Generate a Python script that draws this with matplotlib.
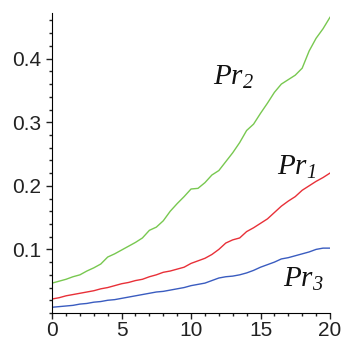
import numpy as np
import matplotlib
matplotlib.use('Agg')
import matplotlib.pyplot as plt
from matplotlib.ticker import MultipleLocator

plt.rcParams['mathtext.fontset'] = 'custom'
plt.rcParams['mathtext.it'] = 'Liberation Serif:italic'
plt.rcParams['mathtext.rm'] = 'Liberation Serif:italic'
plt.rcParams['font.family'] = 'Liberation Sans'

x = np.arange(0, 20.5, 0.5)

pr2 = [0.047, 0.050, 0.053, 0.057, 0.060, 0.066, 0.071, 0.077, 0.088, 0.093,
       0.099, 0.105, 0.111, 0.118, 0.130, 0.135, 0.145, 0.160, 0.172, 0.183,
       0.195, 0.196, 0.205, 0.217, 0.224, 0.238, 0.252, 0.268, 0.287, 0.297,
       0.314, 0.330, 0.347, 0.360, 0.367, 0.374, 0.385, 0.412, 0.432, 0.447,
       0.465]
pr1 = [0.022, 0.024, 0.027, 0.029, 0.031, 0.033, 0.035, 0.038, 0.040, 0.043,
       0.046, 0.048, 0.051, 0.053, 0.057, 0.060, 0.064, 0.066, 0.069, 0.072,
       0.078, 0.082, 0.086, 0.092, 0.100, 0.110, 0.115, 0.118, 0.128, 0.134,
       0.141, 0.148, 0.158, 0.168, 0.176, 0.183, 0.193, 0.200, 0.207, 0.213,
       0.220]
pr3 = [0.009, 0.010, 0.011, 0.012, 0.014, 0.015, 0.017, 0.018, 0.020, 0.021,
       0.023, 0.025, 0.027, 0.029, 0.031, 0.033, 0.034, 0.036, 0.038, 0.040,
       0.043, 0.045, 0.047, 0.051, 0.055, 0.057, 0.058, 0.060, 0.063, 0.067,
       0.072, 0.076, 0.080, 0.085, 0.087, 0.090, 0.093, 0.096, 0.100, 0.102,
       0.102]

fig = plt.figure(figsize=(3.43, 3.43), dpi=100)
ax = fig.add_axes([0.152, 0.0875, 0.81, 0.875])

ax.plot(x, pr2, color='#78c850', lw=1.0)
ax.plot(x, pr1, color='#e83038', lw=1.0)
ax.plot(x, pr3, color='#3a5cc0', lw=1.0)

ax.text(11.6, 0.359, r'$Pr_2$', fontsize=21, color='#111111')
ax.text(16.2, 0.217, r'$Pr_1$', fontsize=21, color='#111111')
ax.text(16.6, 0.041, r'$Pr_3$', fontsize=21, color='#111111')

ax.set_xlim(0, 20)
ax.set_ylim(0, 0.472)
ax.spines['top'].set_visible(False)
ax.spines['right'].set_visible(False)
ax.xaxis.set_major_locator(MultipleLocator(5))
ax.xaxis.set_minor_locator(MultipleLocator(1))
ax.yaxis.set_minor_locator(MultipleLocator(0.02))
ax.set_yticks([0.1, 0.2, 0.3, 0.4])
ax.set_yticklabels(['0.1', '0.2', '0.3', '0.4'])
ax.tick_params(which='major', length=4, width=1, labelsize=15, colors='#222222')
ax.tick_params(axis='x', pad=2)
ax.tick_params(axis='y', pad=4)
ax.tick_params(which='minor', length=2.5, width=1, colors='#222222')

fig.savefig('out.png', dpi=100)
